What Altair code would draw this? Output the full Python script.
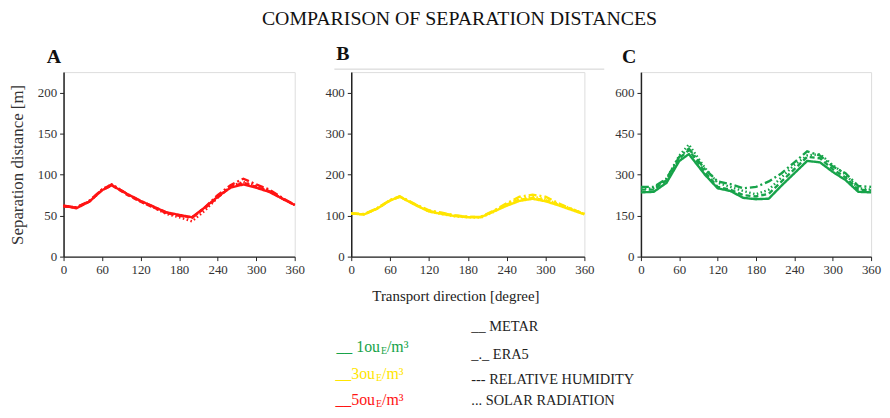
import altair as alt
import pandas as pd

# ---------------- data ----------------
directions = [0, 20, 40, 60, 75, 100, 120, 140, 160, 180, 200, 220, 240, 260, 280, 300, 320, 340, 360]
series_names = ["METAR", "ERA5", "RELATIVE HUMIDITY", "SOLAR RADIATION"]

# Panel A: 5 ouE/m3 (red)
a_metar = [62, 59, 67, 81, 87, 76, 68, 61, 54, 51, 48, 60, 73, 84, 88, 84, 79, 71, 63]
a_era5 = [62, 60, 68, 82, 88, 76, 68, 61, 54, 50, 47, 60, 75, 87, 95, 88, 82, 72, 63]
a_rh = [61, 60, 67, 81, 87, 75, 67, 60, 53, 50, 48, 59, 72, 85, 90, 85, 80, 71, 63]
a_solar = [62, 60, 67, 82, 88, 76, 67, 60, 52, 48, 43, 56, 72, 86, 91, 86, 80, 71, 63]

# Panel B: 3 ouE/m3 (yellow)
b_metar = [105, 103, 117, 137, 146, 125, 110, 104, 99, 96, 96, 110, 124, 136, 141, 135, 125, 114, 103]
b_era5 = [106, 104, 118, 138, 147, 127, 113, 107, 101, 97, 97, 112, 130, 146, 151, 146, 130, 116, 104]
b_rh = [105, 103, 117, 137, 146, 126, 111, 106, 100, 97, 97, 111, 127, 139, 143, 138, 127, 116, 104]
b_solar = [105, 103, 118, 138, 147, 126, 110, 104, 98, 96, 95, 109, 127, 141, 146, 140, 128, 117, 104]

# Panel C: 1 ouE/m3 (green)
c_metar = [235, 237, 270, 350, 375, 300, 250, 240, 215, 210, 212, 260, 305, 350, 345, 310, 280, 237, 235]
c_era5 = [255, 255, 285, 365, 395, 320, 275, 265, 250, 255, 275, 305, 345, 385, 370, 330, 305, 258, 255]
c_rh = [245, 245, 280, 360, 390, 310, 255, 245, 225, 220, 230, 275, 320, 365, 360, 320, 290, 245, 242]
c_solar = [248, 250, 285, 370, 410, 325, 270, 255, 240, 228, 245, 290, 335, 370, 375, 335, 300, 250, 245]

panel_letters = ["A", "B", "C"]
y_domains = [[0, 225], [0, 450], [0, 675]]
y_ticks = [[0, 50, 100, 150, 200], [0, 100, 200, 300, 400], [0, 150, 300, 450, 600]]
x_ticks = [0, 60, 120, 180, 240, 300, 360]
panel_colors = ["#ff1414", "#ffe500", "#17a34a"]

main_title = "COMPARISON OF SEPARATION DISTANCES"
x_title = "Transport direction [degree]"
y_title = "Separation distance [m]"

conc_prefixes = ["__ 1ou", "__3ou", "__5ou"]
conc_colors = ["#17a34a", "#ffe500", "#ff1414"]
style_labels = ["__  METAR", "_._ ERA5", "---  RELATIVE HUMIDITY", "...  SOLAR RADIATION"]

FONT = "Liberation Serif"


def make_df(cols):
    rows = []
    for name, vals in zip(series_names, cols):
        for d, v in zip(directions, vals):
            rows.append({"direction": d, "distance": v, "series": name})
    return pd.DataFrame(rows)


panel_data = [
    make_df([a_metar, a_era5, a_rh, a_solar]),
    make_df([b_metar, b_era5, b_rh, b_solar]),
    make_df([c_metar, c_era5, c_rh, c_solar]),
]

dash_scale = alt.Scale(domain=series_names, range=[[1, 0], [8, 3, 2, 3], [5, 3], [1.5, 2.5]])

WIDTHS = [233, 235, 232]
H = 186
TITLE_DX = [-17, -15, -19]


def text_layer(txt, x, y, size, color, align="left"):
    return alt.Chart(pd.DataFrame({"t": [txt]})).mark_text(
        align=align, baseline="middle", font=FONT, fontSize=size, color=color).encode(
        text="t:N", x=alt.value(x), y=alt.value(y))


def panel(i):
    common = dict(grid=False, labelFont=FONT, labelFontSize=13, labelColor="#333",
                  domainColor="#222", domainWidth=1.5, tickColor="#222", tickSize=4, labelPadding=3)
    if i == 1:
        x_axis = alt.Axis(values=x_ticks, title=x_title, titleFont=FONT, titleFontSize=15,
                          titleFontWeight="normal", titleColor="#222", titlePadding=12,
                          titleX=105, titleAlign="center", labelFlush=False, **common)
    else:
        x_axis = alt.Axis(values=x_ticks, title=None, labelFlush=False, **common)
    if i == 0:
        y_axis = alt.Axis(values=y_ticks[i], title=y_title, titleFont=FONT, titleFontSize=17,
                          titleFontWeight="normal", titleColor="#333", titlePadding=11, **common)
    else:
        y_axis = alt.Axis(values=y_ticks[i], title=None, **common)

    lines = alt.Chart(panel_data[i]).mark_line(color=panel_colors[i], strokeWidth=2.4).encode(
        x=alt.X("direction:Q", scale=alt.Scale(domain=[0, 360], nice=False), axis=x_axis),
        y=alt.Y("distance:Q", scale=alt.Scale(domain=y_domains[i], nice=False), axis=y_axis),
        strokeDash=alt.StrokeDash("series:N", scale=dash_scale, legend=None),
        detail="series:N",
    )
    layers = [lines]

    if i == 1:
        # faint line above panel B, as in the source figure
        layers.append(alt.Chart(pd.DataFrame({"t": [0]})).mark_rule(color="#d0d0d0", strokeWidth=1).encode(
            x=alt.value(-17), x2=alt.value(255), y=alt.value(-3)))
        # legend-like annotation below the middle panel
        e_x = [30, 25, 25]
        rows_y = [277, 304, 331]
        for k, (pre, col) in enumerate(zip(conc_prefixes, conc_colors)):
            yy = rows_y[k]
            layers.append(text_layer(pre, e_x[k] - 1, yy, 16, col, align="right"))
            layers.append(text_layer("E", e_x[k], yy + 4, 10, col))
            layers.append(text_layer("/m³", e_x[k] + 6, yy, 16, col))
        for k, lab in enumerate(style_labels):
            yy = [257, 285, 310, 332][k]
            layers.append(text_layer(lab, 121, yy, 14.5, "#222"))

    return alt.layer(*layers).properties(
        width=WIDTHS[i], height=H,
        title=alt.TitleParams(panel_letters[i], anchor="start", frame="group", dx=TITLE_DX[i],
                              font=FONT, fontSize=20, fontWeight="bold", color="#111", offset=5),
    )


chart = alt.hconcat(panel(0), panel(1), panel(2), spacing=57, bounds="flush").properties(
    padding={"left": 0, "top": 0, "right": 0, "bottom": 0},
    title=alt.TitleParams(main_title, anchor="middle", font=FONT, fontSize=20,
                          fontWeight="normal", color="#111", offset=14, dx=15),
).configure_view(stroke="#222", strokeWidth=1.2).configure_axis(
    labelFont=FONT, titleFont=FONT
).configure(background="white")

chart.save("out.html", embed_options={"renderer": "svg", "actions": False})
